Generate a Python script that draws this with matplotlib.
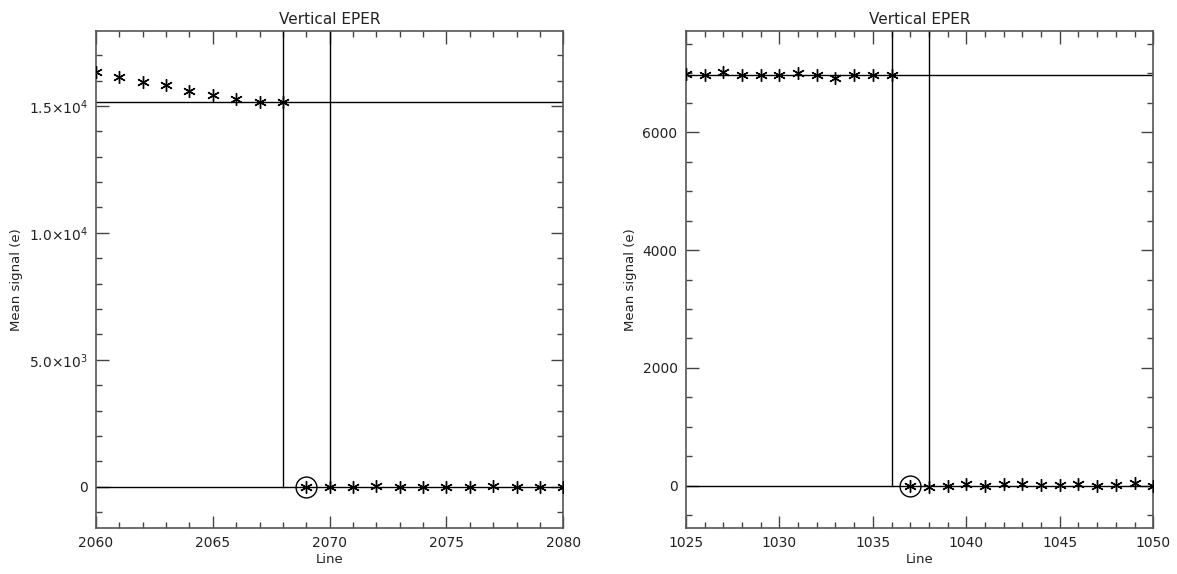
import numpy as np
import matplotlib
matplotlib.use('Agg')
import matplotlib.pyplot as plt
from matplotlib.ticker import MultipleLocator

# left panel data
lines_a = np.arange(2060, 2081)
signal_a = [16320, 16120, 15950, 15820, 15590, 15440, 15270, 15170, 15170,
            0, 5, 0, 8, 0, 5, 0, 0, 10, 0, 0, 0]
level_a = 15170
edge_a = [2068, 2070]
first_a = 2069

# right panel data
lines_b = np.arange(1025, 1051)
signal_b = [6995, 6978, 7017, 6967, 6967, 6978, 7006, 6967, 6922, 6978, 6967, 6978,
            0, -17, -6, 22, 0, 22, 28, 11, 11, 28, 0, 17, 39, 0]
level_b = 6978
edge_b = [1036, 1038]
first_b = 1037

plt.rcParams['font.family'] = 'DejaVu Sans'
fig = plt.figure(figsize=(11.77, 5.74), dpi=100)

asterisk = (6, 2, 0)


def panel(ax, x, y, level, edge, first, major, minor, xmajor, labels=None):
    x = np.asarray(x)
    y = np.asarray(y, dtype=float)
    rng = y.max() - y.min()
    ax.set_ylim(y.min() - 0.1 * rng, y.max() + 0.1 * rng)
    ax.set_xlim(x[0], x[-1])
    ax.plot(x, y, linestyle='none', marker=asterisk, markersize=9,
            markeredgewidth=1.0, color='black', zorder=3)
    ax.axhline(level, color='black', lw=1)
    ax.axhline(0, color='black', lw=1)
    for e in edge:
        ax.plot([e, e], [0, ax.get_ylim()[1]], color='black', lw=1)
    i = list(x).index(first)
    ax.plot(first, y[i], linestyle='none', marker='o', markersize=15,
            markerfacecolor='none', markeredgecolor='black', markeredgewidth=1)
    ax.yaxis.set_major_locator(MultipleLocator(major))
    ax.yaxis.set_minor_locator(MultipleLocator(minor))
    ax.xaxis.set_major_locator(MultipleLocator(xmajor))
    ax.xaxis.set_minor_locator(MultipleLocator(1))
    if labels is not None:
        ax.set_yticks(list(labels.keys()))
        ax.set_yticklabels(list(labels.values()))
    ax.tick_params(which='both', direction='in', top=True, right=True,
                   labelsize=10, color='#444444', labelcolor='#222222', pad=6)
    ax.tick_params(which='major', length=9, width=1)
    ax.tick_params(which='minor', length=4.5, width=1)
    for s in ax.spines.values():
        s.set_color('#555555')
        s.set_linewidth(1.2)
    ax.set_title('Vertical EPER', fontsize=11, pad=5, color='#222222')
    ax.set_xlabel('Line', fontsize=9.5, labelpad=2, color='#222222')
    ax.set_ylabel('Mean signal (e)', fontsize=9.5, labelpad=4, color='#222222')


ax1 = fig.add_axes([0.0816, 0.080, 0.397, 0.866])
panel(ax1, lines_a, signal_a, level_a, edge_a, first_a, 5000, 1000, 5,
      labels={0: '0', 5000: r'5.0$\times$10$^3$', 10000: r'1.0$\times$10$^4$',
              15000: r'1.5$\times$10$^4$'})

ax2 = fig.add_axes([0.5828, 0.080, 0.397, 0.866])
panel(ax2, lines_b, signal_b, level_b, edge_b, first_b, 2000, 500, 5)

fig.savefig('out.png', dpi=100)
